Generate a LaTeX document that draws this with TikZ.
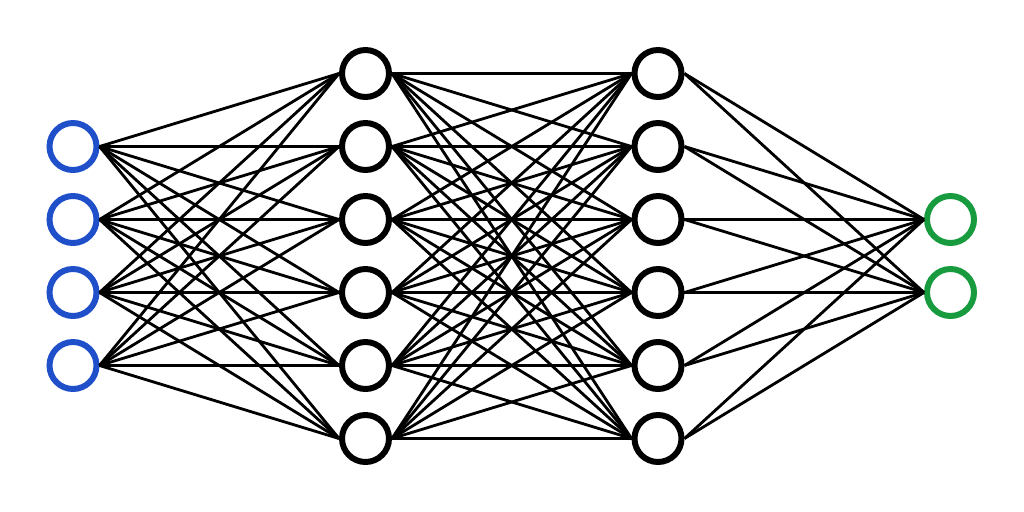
\documentclass[tikz,border=0pt]{standalone}
\usepackage{tikz}
\usepackage{xcolor}
\definecolor{inblue}{HTML}{1F4FC9}
\definecolor{outgreen}{HTML}{189B3F}

\begin{document}
\begin{tikzpicture}[
        neuron/.style={circle, draw=black, line width=3.4pt, minimum size=0.94cm, inner sep=0pt, fill=white},
        innode/.style={neuron, draw=inblue},
        outnode/.style={neuron, draw=outgreen},
        link/.style={line width=1.6pt, black}
    ]
        \useasboundingbox (0,-5.12) rectangle (20.48,5.12);
        % input layer
        \foreach \i in {1,...,4}
            \node[innode] (in\i) at (1.46,{(2.5-\i)*1.46}) {};
        % hidden layers
        \foreach \i in {1,...,6} {
            \node[neuron] (hA\i) at (7.31,{(3.5-\i)*1.46}) {};
            \node[neuron] (hB\i) at (13.16,{(3.5-\i)*1.46}) {};
        }
        % output layer
        \foreach \i in {1,2}
            \node[outnode] (out\i) at (19.01,{(1.5-\i)*1.46}) {};
        % connections
        \foreach \i in {1,...,4}
            \foreach \j in {1,...,6}
                \draw[link] (in\i.east) -- (hA\j.west);
        \foreach \i in {1,...,6}
            \foreach \j in {1,...,6}
                \draw[link] (hA\i.east) -- (hB\j.west);
        \foreach \i in {1,...,6}
            \foreach \j in {1,2}
                \draw[link] (hB\i.east) -- (out\j.west);
    \end{tikzpicture}
\end{document}
